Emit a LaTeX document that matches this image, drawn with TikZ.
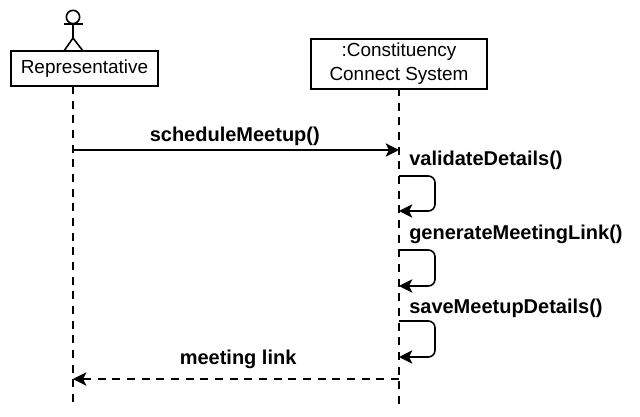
\documentclass[tikz,border=0pt]{standalone}
\usepackage{fontspec}
\setmainfont{Liberation Sans}
\usetikzlibrary{arrows.meta}
\tikzset{
	lifebox/.style={draw,line width=1.5pt,fill=white,inner sep=0,outer sep=0,align=center,font=\fontsize{14.2pt}{17.6pt}\selectfont},
	lifeline/.style={line width=1.2pt,dash pattern=on 6pt off 5pt},
	msgarrow/.style={line width=1.2pt,-{Stealth[length=10pt,width=10pt,inset=2.5pt]}},
	retarrow/.style={msgarrow,dash pattern=on 6pt off 5pt},
	selfarrow/.style={msgarrow,rounded corners=5pt},
	msglabel/.style={inner sep=0,anchor=base west,font=\fontsize{15pt}{18pt}\bfseries\selectfont}
}
\begin{document}
\begin{tikzpicture}[x=0.75pt,y=-0.75pt]
	\useasboundingbox (0,0) rectangle (640,417);
	% lifelines
	\coordinate (repTop) at (73,86);
	\coordinate (repEnd) at (73,406);
	\coordinate (sysTop) at (399,88);
	\coordinate (sysEnd) at (399,406);
	\draw[lifeline] (repTop) -- (repEnd);
	\draw[lifeline] (sysTop) -- (sysEnd);
	% actor
	\node[draw,circle,line width=1.2pt,inner sep=0,minimum size=10pt] (head) at (73,17) {};
	\coordinate (hip) at (73,38);
	\coordinate (armL) at (64,24);
	\coordinate (armR) at (83,24);
	\coordinate (footL) at (64,51);
	\coordinate (footR) at (83,51);
	\draw[line width=1.2pt] (head) -- (hip);
	\draw[line width=1.2pt] (armL) -- (armR);
	\draw[line width=1.2pt] (footL) -- (hip) -- (footR);
	% boxes
	\node[lifebox,minimum width=110.25pt,minimum height=26.25pt] (rep) at (84.5,68.5) {Representative};
	\node[lifebox,minimum width=132pt,minimum height=37.5pt] (sys) at (399,63.7) {:Constituency\\Connect System};
	% messages
	\coordinate (m1a) at (73,150);
	\coordinate (m1b) at (399,150);
	\draw[msgarrow] (m1a) -- (m1b);
	\node[msglabel] (lbl1) at (149.5,141.5) {scheduleMeetup()};
	\foreach \nm/\ya/\yb/\yt/\txt in {v/176/211/165.5/validateDetails(),g/250/286/239.5/generateMeetingLink(),s/321/357/313.5/saveMeetupDetails()}{
		\coordinate (\nm a) at (399,\ya);
		\coordinate (\nm b) at (435,\ya);
		\coordinate (\nm c) at (435,\yb);
		\coordinate (\nm d) at (399,\yb);
		\draw[selfarrow] (\nm a) -- (\nm b) -- (\nm c) -- (\nm d);
		\node[msglabel] (\nm lbl) at (409,\yt) {\txt};
	}
	\coordinate (m5a) at (399,379);
	\coordinate (m5b) at (73,379);
	\draw[retarrow] (m5a) -- (m5b);
	\node[msglabel] (lbl5) at (179.5,364) {meeting link};
\end{tikzpicture}
\end{document}
